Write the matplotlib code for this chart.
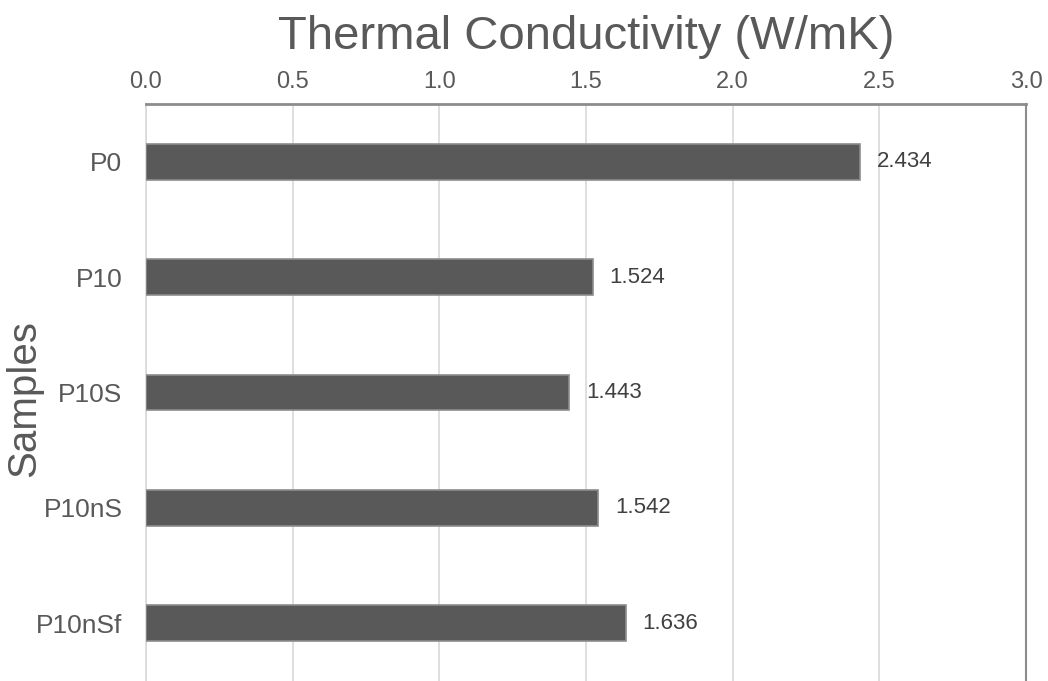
import matplotlib
matplotlib.use("Agg")
import matplotlib.pyplot as plt

# sample names and measured thermal conductivity
samples = ["P0", "P10", "P10S", "P10nS", "P10nSf"]
conductivity = [2.434, 1.524, 1.443, 1.542, 1.636]
tick_values = [0.0, 0.5, 1.0, 1.5, 2.0, 2.5, 3.0]

plt.rcParams['font.family'] = ['Liberation Sans', 'DejaVu Sans']
text_col = '#595959'

fig = plt.figure(figsize=(10.48, 6.81), dpi=100)
ax = fig.add_axes([146 / 1048, 0.0, 880 / 1048, 1 - 104 / 681])

pos = list(range(len(samples)))
ax.barh(pos, conductivity, height=0.31, color='#595959', edgecolor='#8c8c8c', linewidth=1.2, zorder=3)

# value labels to the right of each bar
for p, v in zip(pos, conductivity):
    ax.annotate(f"{v:.3f}", (v, p), xytext=(12, 0), textcoords='offset points',
                va='center', ha='left', fontsize=16, color='#404040', zorder=4)

ax.set_ylim(len(samples) - 0.5, -0.5)
ax.set_xlim(0, 3.0)
ax.set_yticks(pos)
ax.set_yticklabels(samples)
ax.set_xticks(tick_values)
ax.set_xticklabels([f"{t:.1f}" for t in tick_values])

ax.xaxis.tick_top()
ax.xaxis.set_label_position('top')
ax.tick_params(axis='x', length=0, pad=8, labelsize=17, labelcolor=text_col)
ax.tick_params(axis='y', length=0, pad=17, labelsize=19, labelcolor=text_col)

ax.grid(axis='x', color='#d9d9d9', linewidth=1.2, zorder=0)
ax.spines['bottom'].set_visible(False)
ax.spines['top'].set_color('#8c8c8c')
ax.spines['top'].set_linewidth(2)
ax.spines['left'].set_color('#d9d9d9')
ax.spines['left'].set_linewidth(1.2)
ax.spines['right'].set_color('#8c8c8c')
ax.spines['right'].set_linewidth(1.5)

ax.set_xlabel("Thermal Conductivity (W/mK)", fontsize=34, color=text_col, labelpad=16)
ax.set_ylabel("Samples", fontsize=29, color=text_col)
ax.yaxis.set_label_coords(-0.117, 0.49)

fig.savefig("out.png", dpi=100)
